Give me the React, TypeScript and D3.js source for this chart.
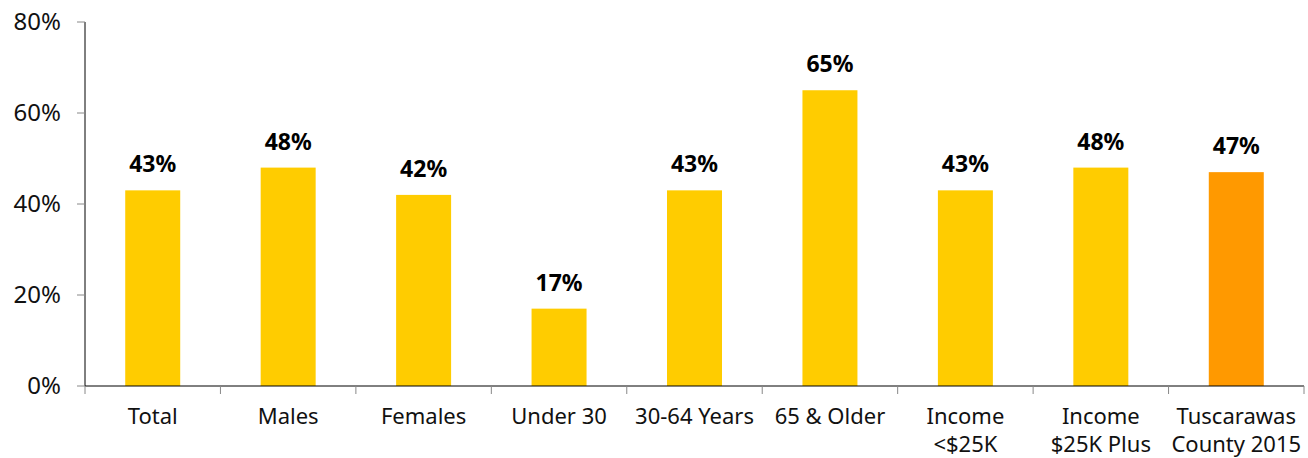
import { useEffect, useRef } from 'react';
import * as d3 from 'd3';

const categories = [
  ['Total'],
  ['Males'],
  ['Females'],
  ['Under 30'],
  ['30-64 Years'],
  ['65 & Older'],
  ['Income', '<$25K'],
  ['Income', '$25K Plus'],
  ['Tuscarawas', 'County 2015'],
];
const values = [43, 48, 42, 17, 43, 65, 43, 48, 47];
const highlight = [false, false, false, false, false, false, false, false, true];
const yTicks = [0, 20, 40, 60, 80];

const W = 1308;
const H = 458;
const FONT = '"Noto Sans", "Open Sans", sans-serif';

export default function App() {
  const svgRef = useRef<SVGSVGElement>(null);

  useEffect(() => {
    if (!svgRef.current) return;
    const svg = d3.select(svgRef.current);
    svg.selectAll('*').remove();

    const left = 85;
    const right = 1304;
    const top = 22;
    const bottom = 386;

    const x = d3
      .scaleBand<number>()
      .domain(d3.range(values.length))
      .range([left, right])
      .paddingInner(0.594)
      .paddingOuter(0.297);
    const y = d3.scaleLinear().domain([0, 80]).range([bottom, top]);

    // y axis
    svg
      .append('line')
      .attr('x1', left)
      .attr('x2', left)
      .attr('y1', top)
      .attr('y2', bottom)
      .style('stroke', '#000')
      .style('stroke-width', 1);

    svg
      .selectAll('.ytick')
      .data(yTicks)
      .enter()
      .append('line')
      .attr('x1', left - 8)
      .attr('x2', left)
      .attr('y1', (d) => y(d))
      .attr('y2', (d) => y(d))
      .style('stroke', '#888')
      .style('stroke-width', 1);

    svg
      .selectAll('.ylabel')
      .data(yTicks)
      .enter()
      .append('text')
      .attr('x', 61)
      .attr('y', (d) => y(d))
      .attr('dy', '0.35em')
      .attr('text-anchor', 'end')
      .style('font-family', FONT)
      .style('font-size', '24px')
      .style('fill', '#111')
      .text((d) => `${d}%`);

    // bars
    svg
      .selectAll('.bar')
      .data(values)
      .enter()
      .append('rect')
      .attr('x', (_d, i) => x(i)!)
      .attr('width', x.bandwidth())
      .attr('y', (d) => y(d))
      .attr('height', (d) => bottom - y(d))
      .style('fill', (_d, i) => (highlight[i] ? '#FF9900' : '#FFCC00'));

    // value labels
    svg
      .selectAll('.val')
      .data(values)
      .enter()
      .append('text')
      .attr('x', (_d, i) => x(i)! + x.bandwidth() / 2)
      .attr('y', (d) => y(d) - 18)
      .attr('text-anchor', 'middle')
      .style('font-family', FONT)
      .style('font-weight', 'bold')
      .style('font-size', '23px')
      .style('fill', '#000')
      .text((d) => `${d}%`);

    // x axis
    svg
      .append('line')
      .attr('x1', left)
      .attr('x2', right)
      .attr('y1', bottom)
      .attr('y2', bottom)
      .style('stroke', '#000')
      .style('stroke-width', 1);

    const step = x.step();
    const edges = d3.range(values.length + 1).map((i) => left + i * step);
    svg
      .selectAll('.xtick')
      .data(edges)
      .enter()
      .append('line')
      .attr('x1', (d) => d)
      .attr('x2', (d) => d)
      .attr('y1', bottom)
      .attr('y2', bottom + 8)
      .style('stroke', '#888')
      .style('stroke-width', 1);

    const cat = svg
      .selectAll('.cat')
      .data(categories)
      .enter()
      .append('text')
      .attr('text-anchor', 'middle')
      .style('font-family', FONT)
      .style('font-size', '22px')
      .style('fill', '#111');
    cat
      .selectAll('tspan')
      .data((d, i) => d.map((line) => ({ line, i })))
      .enter()
      .append('tspan')
      .attr('x', (d) => x(d.i)! + x.bandwidth() / 2)
      .attr('y', (_d, j) => 424 + j * 28)
      .text((d) => d.line);
  }, []);

  return (
    <svg
      ref={svgRef}
      width={W}
      height={H}
      style={{ position: 'absolute', left: 0, top: 0, background: '#fff' }}
    />
  );
}
